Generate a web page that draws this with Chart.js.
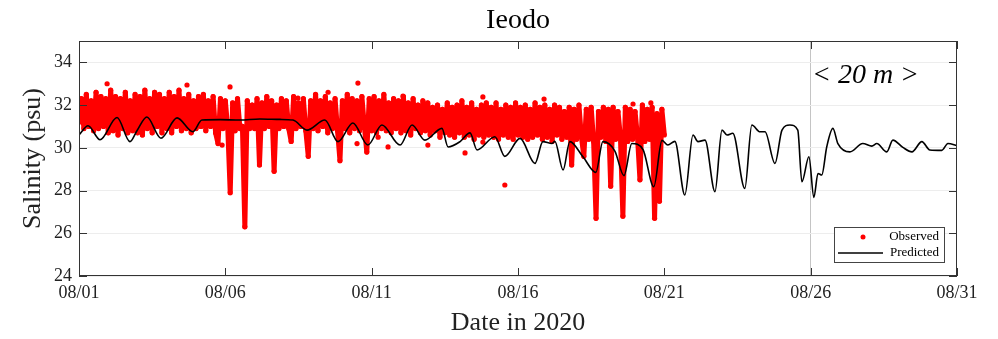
<!DOCTYPE html>
<html>
<head>
<meta charset="utf-8">
<script src="https://cdn.jsdelivr.net/npm/chart.js@4.4.1/dist/chart.umd.min.js"></script>
<style>
body { margin: 0; background: #fff; }
#wrap { width: 998px; height: 339px; }
</style>
</head>
<body>
<div id="wrap"><canvas id="chart"></canvas></div>
<script>
// observed salinity, one value every 2 hours from 08/01 00:00
const obsStartDay = 0
const obsStepHours = 2
const observed = [
    31.2,32.3,30.9,32.5,31.0,32.2,30.8,32.6,30.9,32.4,31.0,32.3,
    30.7,32.7,30.8,32.4,30.6,32.3,30.9,32.6,30.7,32.2,30.8,32.5,
    30.7,32.4,30.6,32.7,30.9,32.3,30.7,32.6,31.0,32.5,30.7,32.3,
    30.9,32.6,30.7,32.4,31.0,32.7,30.8,32.3,30.9,32.5,30.7,32.2,
    30.9,32.4,31.0,32.5,30.8,32.2,31.0,32.4,30.7,30.2,32.3,30.9,
    32.2,30.9,27.9,32.1,30.8,32.3,30.9,31.0,26.3,32.2,30.9,32.0,
    30.9,32.3,29.2,32.1,30.9,32.4,31.0,32.2,28.9,32.0,30.9,32.3,
    31.0,32.2,30.9,30.3,32.4,30.9,32.1,31.0,32.3,30.8,29.6,32.2,
    30.9,32.5,30.8,32.2,31.0,32.4,30.7,32.1,30.9,32.3,30.8,29.4,
    32.2,30.9,32.5,30.7,32.3,30.9,32.2,30.8,32.4,31.0,29.8,32.3,
    30.8,32.4,30.7,32.2,30.9,32.5,30.8,32.1,30.7,32.3,30.9,32.2,
    30.7,32.4,30.8,32.1,30.6,32.3,30.9,32.0,30.7,32.2,30.8,32.1,
    30.6,31.9,30.8,32.0,30.5,31.8,30.7,32.1,30.6,31.9,30.5,32.0,
    30.7,32.2,30.5,31.9,30.6,32.1,30.4,31.8,30.6,32.0,30.5,32.1,
    30.6,31.9,30.5,32.1,30.4,31.8,30.6,32.0,30.5,31.9,30.4,32.1,
    30.6,31.9,30.5,32.0,30.4,31.8,30.5,32.1,30.6,31.9,30.4,32.0,
    30.5,31.8,30.3,32.0,30.6,31.9,30.4,31.7,30.5,31.9,29.2,31.8,
    30.4,32.0,30.5,29.6,31.8,30.4,31.9,30.3,26.7,31.7,30.5,31.9,
    30.3,31.8,28.2,31.9,30.4,31.7,30.5,26.8,31.9,30.3,31.8,30.4,
    31.7,30.5,28.5,32.0,30.3,31.8,30.4,31.9,26.7,31.6,27.5,31.8,
    30.6
]
// isolated observed points away from the band
const outlierDay = [0.96, 3.69, 5.16, 7.48, 8.51, 9.53, 11.07, 13.80, 15.89, 18.93, 19.54,
    4.89, 9.50, 10.22, 10.56, 11.92, 13.19, 13.80, 14.55]
const outlierSal = [33.0, 32.94, 32.85, 32.33, 32.6, 33.03, 32.42, 32.38, 32.28, 32.05, 32.1,
    30.13, 30.2, 30.5, 30.04, 30.13, 29.76, 30.27, 28.26]

const predDay = [0.00,0.31,0.72,1.30,1.74,1.98,2.32,2.80,3.35,3.89,4.20,4.82,5.50,6.18,6.87,7.31,7.79,8.40,8.85,9.36,
    9.87,10.35,10.97,11.38,11.82,12.40,12.61,13.02,13.36,13.60,14.21,14.55,15.07,15.58,15.85,16.16,16.26,16.54,16.77,17.22,
    17.66,17.90,18.31,18.62,18.89,19.27,19.64,19.92,20.12,20.36,20.70,20.98,21.15,21.39,21.73,21.97,22.14,22.34,22.75,22.99,
    23.27,23.44,23.78,24.02,24.29,24.56,24.70,24.94,25.11,25.25,25.38,25.55,25.76,25.93,26.34,26.78,27.09,27.26,27.60,27.81,
    28.15,28.46,28.80,29.07,29.48,29.69,30.00]
const predSal = [30.6,31.03,30.38,31.42,30.29,30.8,31.44,30.45,31.4,30.75,31.3,31.32,31.3,31.35,31.33,31.3,30.83,31.3,30.29,31.16,
    30.13,31.07,30.13,31.07,30.36,30.91,30.04,30.29,30.7,29.9,30.52,29.6,30.44,29.27,30.29,30.2,30.3,28.96,30.29,29.58,
    28.85,30.29,29.85,28.7,30.2,29.92,28.18,30.35,30.13,30.3,27.79,30.6,30.29,30.36,27.95,30.83,30.6,30.68,28.1,31.07,
    30.75,30.75,29.27,30.83,31.07,30.83,28.41,29.58,27.68,28.8,28.73,30.05,30.91,30.2,29.81,30.2,30.08,30.2,29.81,30.36,
    30.02,29.81,30.29,29.9,29.88,30.2,30.1]

const yTicks = [24, 26, 28, 30, 32, 34]
const xTickDays = [0, 5, 10, 15, 20, 25, 30]
const xTickLabels = ['08/01', '08/06', '08/11', '08/16', '08/21', '08/26', '08/31']

const serif = "'Liberation Serif', 'Times New Roman', serif"
const red = '#ff0000'

const obsPoints = observed.map((v, i) => ({x: obsStartDay + i * obsStepHours / 24, y: v}))
const outPoints = outlierDay.map((d, i) => ({x: d, y: outlierSal[i]}))
const predPoints = predDay.map((d, i) => ({x: d, y: predSal[i]}))

const frame = {
    id: 'frame',
    afterDatasetsDraw(chart) {
        const {ctx, chartArea: a, scales: {x, y}} = chart
        ctx.save()
        ctx.strokeStyle = '#333'
        ctx.lineWidth = 1
        ctx.strokeRect(a.left + 0.5, a.top + 0.5, a.width - 1, a.height - 1)
        ctx.beginPath()
        for (const t of y.ticks) {
            const py = Math.round(y.getPixelForValue(t.value)) + 0.5
            ctx.moveTo(a.left, py); ctx.lineTo(a.left + 8, py)
            ctx.moveTo(a.right, py); ctx.lineTo(a.right - 8, py)
        }
        for (const t of x.ticks) {
            const px = Math.round(x.getPixelForValue(t.value)) + 0.5
            ctx.moveTo(px, a.bottom); ctx.lineTo(px, a.bottom - 8)
            ctx.moveTo(px, a.top); ctx.lineTo(px, a.top + 8)
        }
        ctx.stroke()
        ctx.restore()
    },
    afterDraw(chart) {
        const {ctx, chartArea: a} = chart
        const sets = chart.data.datasets
        ctx.save()
        ctx.fillStyle = '#000'
        ctx.font = 'italic 28px ' + serif
        ctx.textBaseline = 'alphabetic'
        ctx.fillText('< 20 m >', a.right - 145, a.top + 42)

        // legend box, lower right
        const bw = 110, bh = 35
        const bx = a.right - 123, by = a.bottom - 49
        ctx.fillStyle = '#fff'
        ctx.fillRect(bx, by, bw, bh)
        ctx.strokeStyle = '#444'
        ctx.lineWidth = 1
        ctx.strokeRect(bx + 0.5, by + 0.5, bw, bh)
        ctx.fillStyle = sets[1].pointBackgroundColor
        ctx.beginPath()
        ctx.arc(bx + 29, by + 10, 2.5, 0, Math.PI * 2)
        ctx.fill()
        ctx.strokeStyle = sets[0].borderColor
        ctx.lineWidth = 1.6
        ctx.beginPath()
        ctx.moveTo(bx + 4, by + 26); ctx.lineTo(bx + 49, by + 26)
        ctx.stroke()
        ctx.fillStyle = '#000'
        ctx.font = '13px ' + serif
        ctx.textAlign = 'right'
        ctx.textBaseline = 'middle'
        ctx.fillText(sets[1].label, bx + bw - 5, by + 10)
        ctx.fillText(sets[0].label, bx + bw - 5, by + 26)
        ctx.restore()
    }
}

new Chart(document.getElementById('chart').getContext('2d'), {
    type: 'line',
    data: {
        datasets: [{
            label: 'Predicted',
            data: predPoints,
            borderColor: '#000',
            borderWidth: 1.6,
            pointRadius: 0,
            cubicInterpolationMode: 'monotone',
            order: 0
        }, {
            label: 'Observed',
            data: obsPoints,
            borderColor: red,
            borderWidth: 5,
            borderJoinStyle: 'round',
            pointRadius: 2.6,
            pointBorderWidth: 0,
            pointBackgroundColor: red,
            order: 1
        }, {
            label: 'Observed',
            data: outPoints,
            showLine: false,
            pointRadius: 2.6,
            pointBorderWidth: 0,
            pointBackgroundColor: red,
            order: 2
        }]
    },
    options: {
        responsive: true,
        maintainAspectRatio: false,
        animation: false,
        layout: { padding: { left: 0, right: 41, top: 0, bottom: 0 } },
        plugins: {
            legend: { display: false },
            tooltip: { enabled: false },
            title: {
                display: true,
                fullSize: false,
                text: 'Ieodo',
                color: '#000',
                font: { family: serif, size: 28, weight: 'normal' },
                padding: { top: 4, bottom: 3.4 }
            }
        },
        scales: {
            x: {
                type: 'linear',
                min: 0,
                max: 30,
                afterBuildTicks: s => { s.ticks = xTickDays.map(v => ({value: v})) },
                afterFit: s => { s.height = 63 },
                ticks: {
                    autoSkip: false,
                    maxRotation: 0,
                    padding: 6,
                    color: '#222',
                    font: { family: serif, size: 18 },
                    callback: (v, i) => xTickLabels[i]
                },
                grid: {
                    drawTicks: false,
                    color: ctx => ctx.tick && ctx.tick.value === 25 ? '#c4c4c4' : 'rgba(0,0,0,0)'
                },
                border: { display: false },
                title: {
                    display: true,
                    text: 'Date in 2020',
                    color: '#222',
                    font: { family: serif, size: 26 },
                    padding: { top: 2, bottom: 0 }
                }
            },
            y: {
                min: 24,
                max: 35,
                afterBuildTicks: s => { s.ticks = yTicks.map(v => ({value: v})) },
                afterFit: s => { s.width = 79 },
                ticks: {
                    padding: 7,
                    color: '#222',
                    font: { family: serif, size: 18 }
                },
                grid: { drawTicks: false, color: '#ededed' },
                border: { display: false },
                title: {
                    display: true,
                    text: 'Salinity (psu)',
                    color: '#222',
                    font: { family: serif, size: 26 },
                    padding: { top: 18, bottom: 0 }
                }
            }
        }
    },
    plugins: [frame]
})
</script>
</body>
</html>
